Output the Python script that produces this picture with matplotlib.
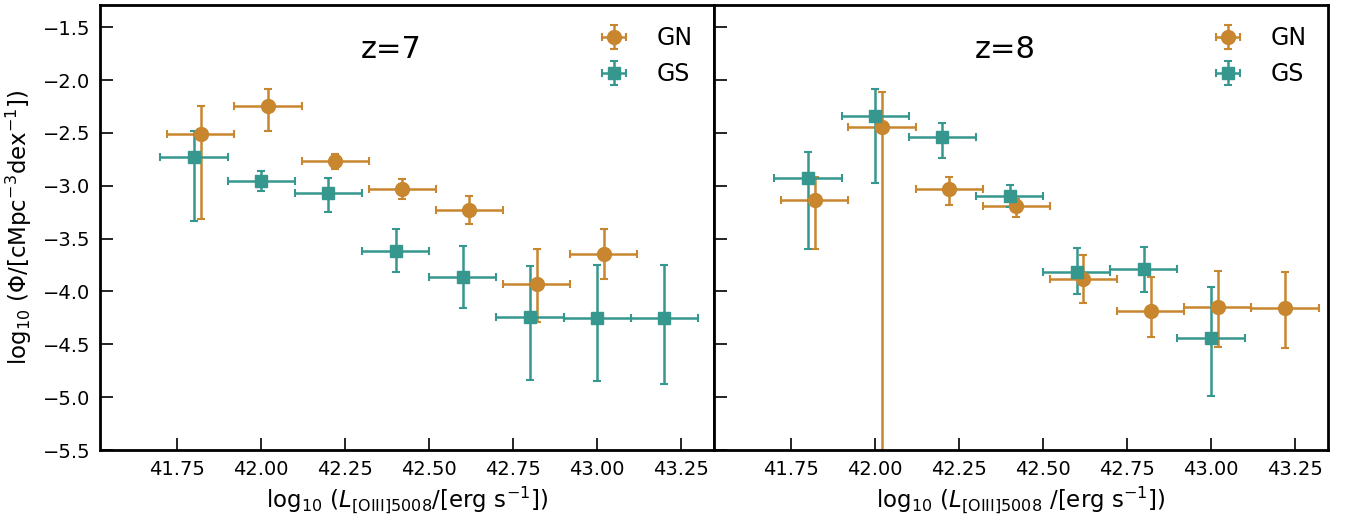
import numpy as np
from matplotlib import pyplot as plt

# z=7 data
x7_gn = [41.82, 42.02, 42.22, 42.42, 42.62, 42.82, 43.02]
y7_gn = [-2.51, -2.245, -2.77, -3.03, -3.225, -3.93, -3.645]
y7_gn_lo = [0.80, 0.24, 0.076, 0.095, 0.136, 0.356, 0.24]
y7_gn_hi = [0.268, 0.158, 0.072, 0.09, 0.126, 0.335, 0.233]

x7_gs = [41.80, 42.00, 42.20, 42.40, 42.60, 42.80, 43.00, 43.20]
y7_gs = [-2.725, -2.952, -3.066, -3.618, -3.867, -4.246, -4.25, -4.253]
y7_gs_lo = [0.606, 0.098, 0.186, 0.196, 0.29, 0.59, 0.60, 0.62]
y7_gs_hi = [0.243, 0.094, 0.142, 0.208, 0.30, 0.49, 0.50, 0.50]

# z=8 data
x8_gn = [41.82, 42.02, 42.22, 42.42, 42.62, 42.82, 43.02, 43.22]
y8_gn = [-3.135, -2.447, -3.034, -3.192, -3.886, -4.187, -4.146, -4.152]
y8_gn_lo = [0.46, 4.0, 0.146, 0.104, 0.222, 0.246, 0.379, 0.382]
y8_gn_hi = [0.22, 0.334, 0.116, 0.07, 0.23, 0.325, 0.335, 0.338]

x8_gs = [41.80, 42.00, 42.20, 42.40, 42.60, 42.80, 43.00]
y8_gs = [-2.93, -2.337, -2.542, -3.095, -3.817, -3.792, -4.445]
y8_gs_lo = [0.672, 0.634, 0.196, 0.104, 0.211, 0.215, 0.544]
y8_gs_hi = [0.252, 0.253, 0.136, 0.102, 0.224, 0.21, 0.483]

bin_half = 0.1
c_gn = "#c8862f"
c_gs = "#35978e"


def draw_panel(ax, title, xn, yn, ynlo, ynhi, xs, ys, yslo, yshi):
    ax.errorbar(xn, yn, xerr=bin_half, yerr=[ynlo, ynhi], fmt="o", color=c_gn,
                ms=10, elinewidth=1.8, capsize=3, capthick=1.5, label="GN")
    ax.errorbar(xs, ys, xerr=bin_half, yerr=[yslo, yshi], fmt="s", color=c_gs,
                ms=9, elinewidth=1.8, capsize=3, capthick=1.5, label="GS")
    ax.text(0.475, 0.9, title, transform=ax.transAxes, ha="center", va="center",
            fontsize=22)
    ax.legend(loc="upper right", frameon=False, fontsize=17, handletextpad=0.8,
              labelspacing=0.5, borderaxespad=0.5)
    ax.set_xlim(41.52, 43.348)
    ax.set_ylim(-5.5, -1.29)
    ax.set_xticks([41.75, 42.0, 42.25, 42.5, 42.75, 43.0, 43.25])
    ax.tick_params(direction="in", length=9, width=1.2, labelsize=14, pad=7)
    for s in ax.spines.values():
        s.set_linewidth(2)


fig, (ax1, ax2) = plt.subplots(1, 2, sharey=True, figsize=(13.46, 5.15), dpi=100)
fig.subplots_adjust(left=0.0743, right=0.9866, top=0.9903, bottom=0.1262, wspace=0)

draw_panel(ax1, "z=7", x7_gn, y7_gn, y7_gn_lo, y7_gn_hi, x7_gs, y7_gs, y7_gs_lo, y7_gs_hi)
draw_panel(ax2, "z=8", x8_gn, y8_gn, y8_gn_lo, y8_gn_hi, x8_gs, y8_gs, y8_gs_lo, y8_gs_hi)
ax2.tick_params(labelleft=False)

ax1.set_ylabel(r"$\log_{10}\,(\Phi/[\rm cMpc^{-3}dex^{-1}])$", fontsize=16.5, labelpad=6)
ax1.set_xlabel(r"$\log_{10}\,(L_{\rm [OIII]5008}/[\rm erg\ s^{-1}])$", fontsize=16.5)
ax2.set_xlabel(r"$\log_{10}\,(L_{\rm [OIII]5008}\ /[\rm erg\ s^{-1}])$", fontsize=16.5)

plt.savefig("out.png")
